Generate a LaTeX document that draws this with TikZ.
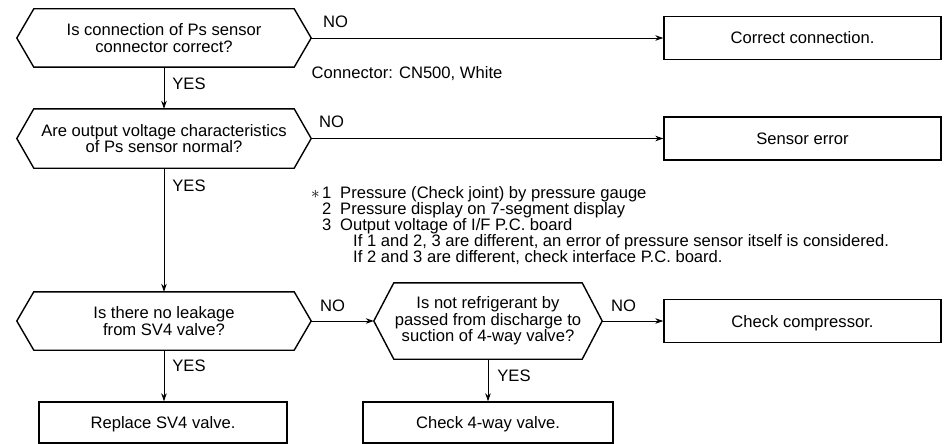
\documentclass[tikz,border=0pt]{standalone}
\usepackage{fontspec}
\setmainfont{Liberation Sans}
\usetikzlibrary{arrows.meta}
\newcommand{\hexpath}[2]{%
  \draw[hexline] ([xshift=#2]#1.north west) -- ([xshift=-#2]#1.north east) -- (#1.east)
    -- ([xshift=-#2]#1.south east) -- ([xshift=#2]#1.south west) -- (#1.west) -- cycle;}
\begin{document}
\begin{tikzpicture}[x=1pt,y=-1pt,
  every node/.style={font=\fontsize{16.6pt}{16.5pt}\selectfont, inner sep=0pt},
  hexa/.style={align=center, minimum height=58pt},
  stepbox/.style={draw, line width=1.4pt, minimum width=277pt, minimum height=43pt, text height=12pt, text depth=0pt},
  lbl/.style={anchor=base},
  notel/.style={anchor=base west},
  arr/.style={-{Stealth[length=8pt,width=5.5pt]}, line width=0.9pt},
  hexline/.style={line width=1.4pt, line join=miter}]
\useasboundingbox (0,0) rectangle (948,444);

% decision hexagons
\node[hexa, minimum width=294pt] (h1) at (164,38) {Is connection of Ps sensor\\connector correct?};
\node[hexa, minimum width=294pt, minimum height=59pt] (h2) at (164,138.5) {Are output voltage characteristics\\of Ps sensor normal?};
\node[hexa, minimum width=294pt] (h3) at (164,321) {Is there no leakage\\from SV4 valve?};
\node[hexa, minimum width=228pt, minimum height=76pt] (h4) at (488,321) {Is not refrigerant by\\passed from discharge to\\suction of 4-way valve?};
\hexpath{h1}{17pt}
\hexpath{h2}{17pt}
\hexpath{h3}{17pt}
\hexpath{h4}{20pt}

% result boxes
\node[stepbox] (b1) at (802.5,38) {Correct connection.};
\node[stepbox] (b2) at (802.5,138.5) {Sensor error};
\node[stepbox] (b3) at (802.5,321) {Check compressor.};
\node[stepbox, minimum width=248pt, minimum height=41pt] (b4) at (163,422.5) {Replace SV4 valve.};
\node[stepbox, minimum width=250pt, minimum height=41pt] (b5) at (488,422.5) {Check 4-way valve.};

% connectors
\draw[arr] (h1.east) -- (b1.west);
\draw[arr] (h2.east) -- (b2.west);
\draw[arr] (h1.south) -- (h2.north);
\draw[arr] (h2.south) -- (h3.north);
\draw[arr] (h3.south) -- (h3.south |- b4.north);
\draw[arr] (h3.east) -- (h4.west);
\draw[arr] (h4.east) -- (b3.west);
\draw[arr] (h4.south) -- (b5.north);

% labels
\node[lbl] (no1) at (335.5,28) {NO};
\node[lbl] (no2) at (331.5,128) {NO};
\node[lbl] (no3) at (332.5,311) {NO};
\node[lbl] (no4) at (623.5,311) {NO};
\node[lbl] (yes1) at (189,89) {YES};
\node[lbl] (yes2) at (189,191) {YES};
\node[lbl] (yes3) at (189,371) {YES};
\node[lbl] (yes4) at (514,381) {YES};
\node[notel] (conn) at (311.5,78) {Connector: CN500, White};

% notes
\node[notel] (n1) at (311,198.5) {\makebox[29pt][l]{\makebox[11pt][l]{$\ast$}1}Pressure (Check joint) by pressure gauge};
\node[notel] (n2) at (311,214.5) {\makebox[29pt][l]{\hspace{11pt}2}Pressure display on 7-segment display};
\node[notel] (n3) at (311,230.5) {\makebox[29pt][l]{\hspace{11pt}3}Output voltage of I/F P.C. board};
\node[notel] (n4) at (353,246.5) {If 1 and 2, 3 are different, an error of pressure sensor itself is considered.};
\node[notel] (n5) at (353,262.5) {If 2 and 3 are different, check interface P.C. board.};
\end{tikzpicture}
\end{document}
